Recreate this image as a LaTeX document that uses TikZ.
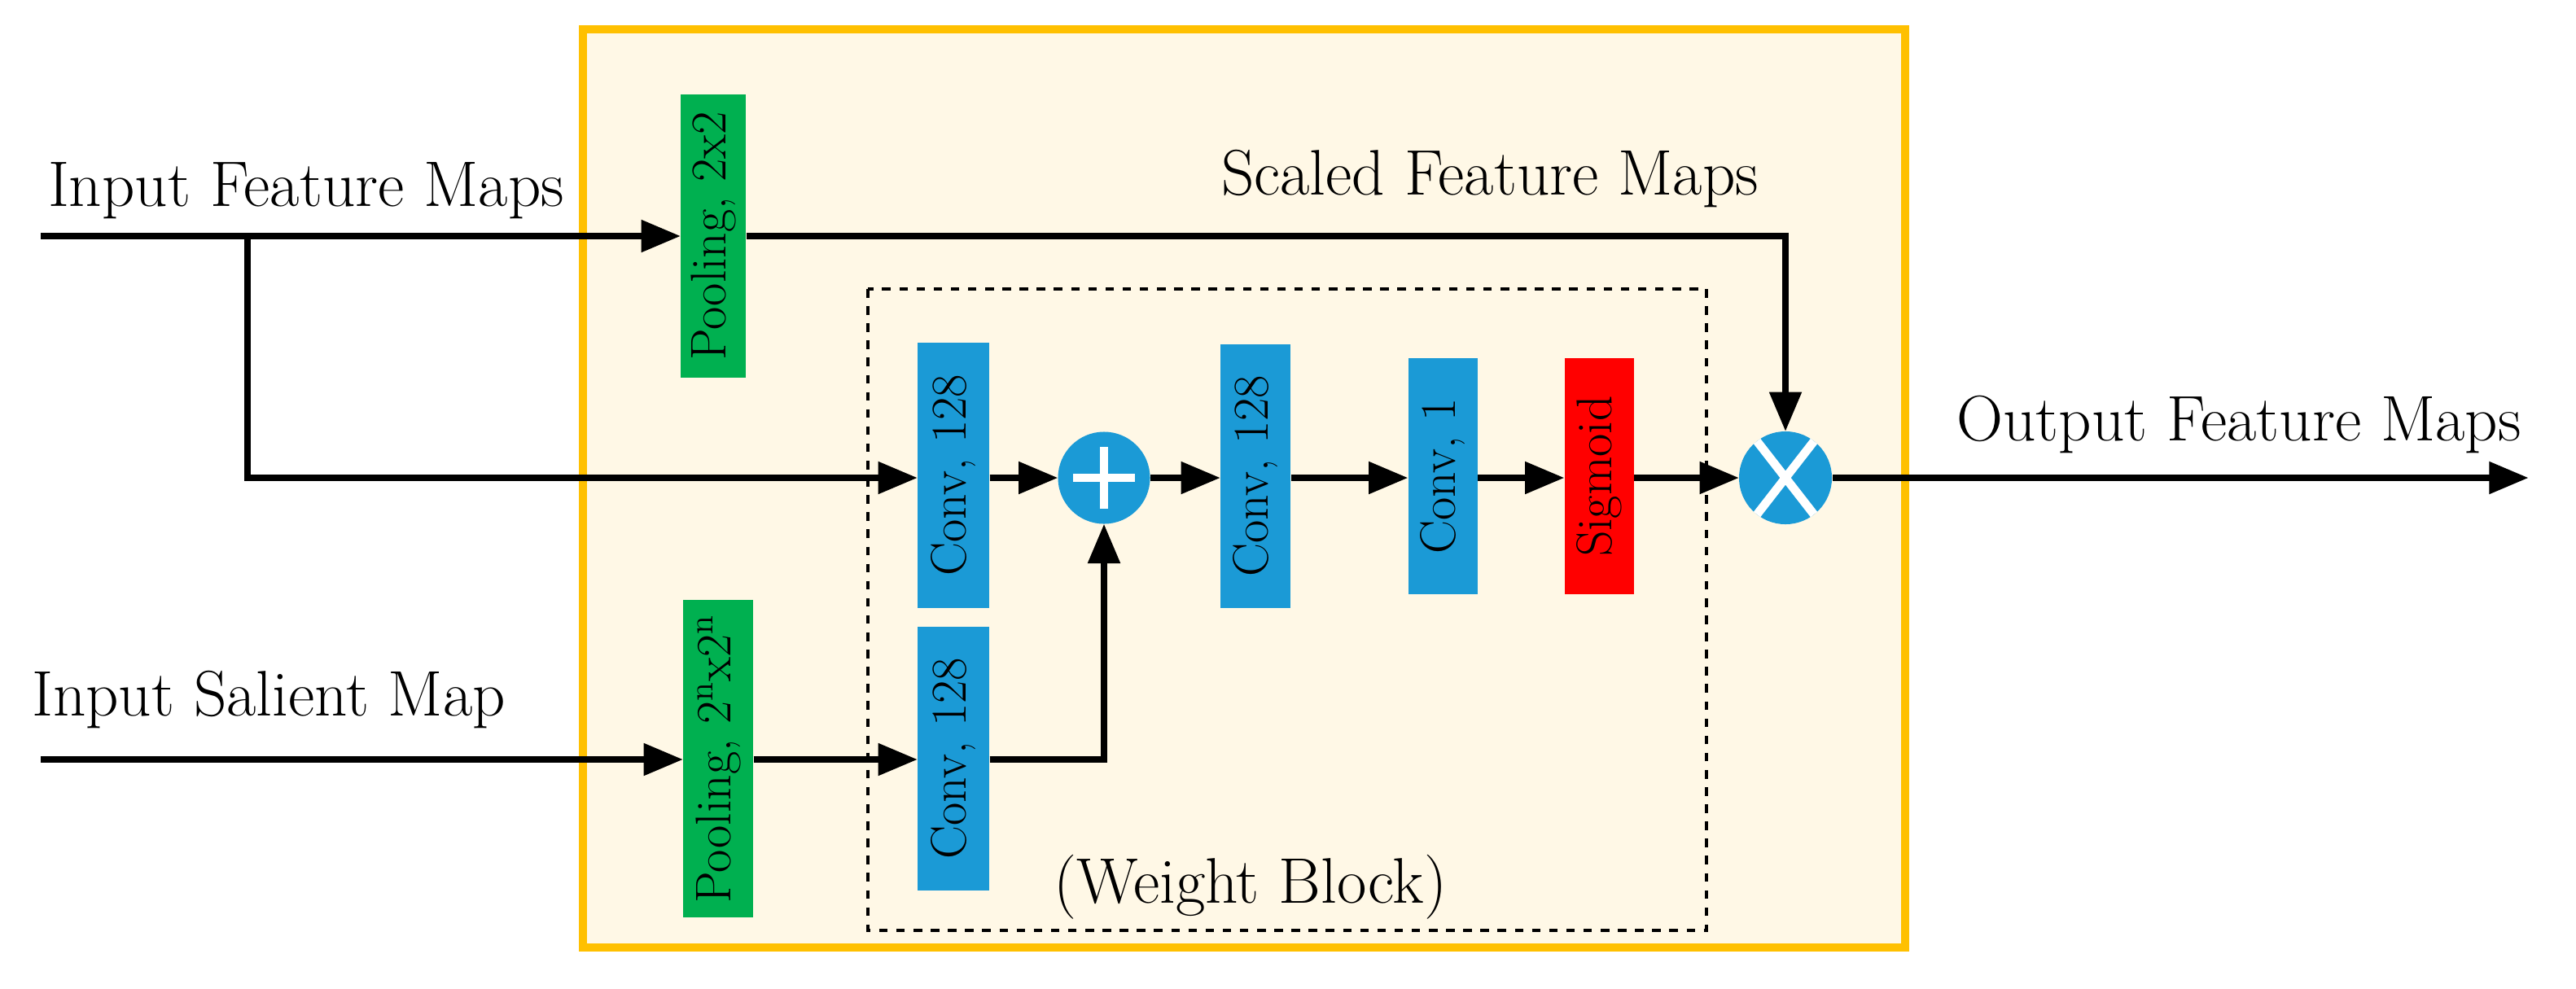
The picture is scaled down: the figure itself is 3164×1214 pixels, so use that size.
\documentclass[tikz,border=0pt]{standalone}
\usepackage{tikz}
\usetikzlibrary{arrows, calc}
\definecolor{boxyellow}{HTML}{FFC000}
\definecolor{cream}{HTML}{FFF8E6}
\definecolor{poolgreen}{HTML}{00B050}
\definecolor{convblue}{HTML}{1B9AD6}
\begin{document}
\begin{tikzpicture}[x=0.01cm, y=-0.01cm,
  flow/.style={line width=2.2pt, -triangle 45},
  blk/.style={draw=none, inner sep=0pt},
  lbl/.style={rotate=90, font=\fontsize{17.5}{20}\selectfont},
  txt/.style={font=\fontsize{22.5}{26}\selectfont}]
\useasboundingbox (0,0) rectangle (3164,1214);

% frames
\draw [draw=boxyellow, fill=cream, line width=3pt] (716,36) rectangle (2340,1164);
\draw [dashed, line width=1.1pt] (1066,355) rectangle (2096,1143);

% blocks
\node [blk, fill=poolgreen, minimum width=0.8cm, minimum height=3.48cm] (pool1) at (876,290) {};
\node [lbl] (pool1t) at (pool1) {Pooling, 2x2};
\node [blk, fill=poolgreen, minimum width=0.86cm, minimum height=3.9cm] (pool2) at (882,932) {};
\node [lbl] (pool2t) at (pool2) {Pooling, $2^{\mathrm{n}}$x$2^{\mathrm{n}}$};
\node [blk, fill=convblue, minimum width=0.88cm, minimum height=3.26cm] (conv1) at (1171,584) {};
\node [lbl] (conv1t) at (conv1) {Conv, 128};
\node [blk, fill=convblue, minimum width=0.88cm, minimum height=3.24cm] (conv2) at (1171,932) {};
\node [lbl] (conv2t) at (conv2) {Conv, 128};
\node [blk, fill=convblue, minimum width=0.86cm, minimum height=3.24cm] (conv3) at (1542,585) {};
\node [lbl] (conv3t) at (conv3) {Conv, 128};
\node [blk, fill=convblue, minimum width=0.85cm, minimum height=2.9cm] (conv4) at (1772,585) {};
\node [lbl] (conv4t) at (conv4) {Conv, 1};
\node [blk, fill=red, minimum width=0.85cm, minimum height=2.9cm] (sig) at (1964,585) {};
\node [lbl] (sigt) at (sig) {Sigmoid};

% plus and times
\node [circle, fill=convblue, minimum size=1.13cm, inner sep=0pt] (plus) at (1356,587) {};
\draw [white, line width=3pt] ($(plus)+(-38,0)$) -- ($(plus)+(38,0)$) ($(plus)+(0,-38)$) -- ($(plus)+(0,38)$);
\node [circle, fill=convblue, minimum size=1.14cm, inner sep=0pt] (mul) at (2193,587) {};
\draw [white, line width=3pt] ($(mul)+(-35,-45)$) -- ($(mul)+(35,45)$) ($(mul)+(-35,45)$) -- ($(mul)+(35,-45)$);

% texts
\node [txt] (inF) at (376,234) {Input Feature Maps};
\node [txt] (inS) at (330,860) {Input Salient Map};
\node [txt] (scF) at (1830,220) {Scaled Feature Maps};
\node [txt] (outF) at (2750,522) {Output Feature Maps};
\node [txt] (wb) at (1536,1090) {(Weight Block)};

% connectors
\coordinate (fin) at (50,290);
\coordinate (sin) at (50,933);
\coordinate (split) at (304,290);
\coordinate (fout) at (3105,587);
\draw [flow] (fin) -- (pool1.west |- fin);
\draw [flow] (split) |- (conv1.west |- plus);
\draw [flow] (pool1.east |- fin) -| (mul.north);
\draw [flow] (sin) -- (pool2.west |- sin);
\draw [flow] (pool2.east |- sin) -- (conv2.west |- sin);
\draw [flow] (conv2.east |- sin) -| (plus.south);
\draw [flow] (conv1.east |- plus) -- (plus.west);
\draw [flow] (plus.east) -- (conv3.west |- plus);
\draw [flow] (conv3.east |- plus) -- (conv4.west |- plus);
\draw [flow] (conv4.east |- plus) -- (sig.west |- plus);
\draw [flow] (sig.east |- plus) -- (mul.west);
\draw [flow] (mul.east) -- (fout);

\end{tikzpicture}
\end{document}
